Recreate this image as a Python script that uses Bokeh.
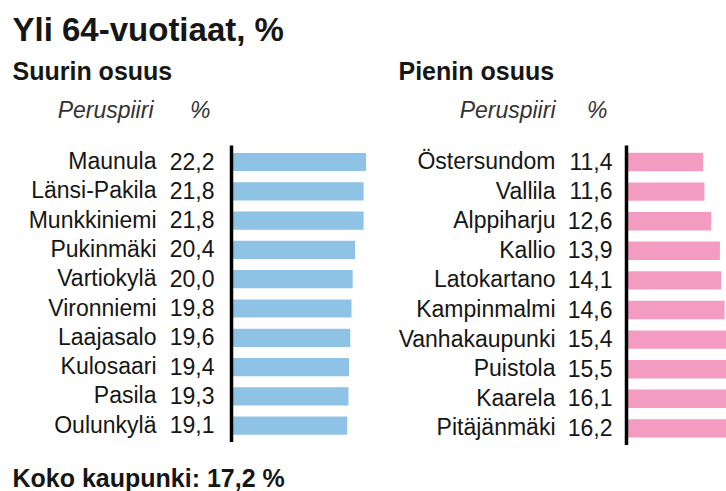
from bokeh.plotting import figure
from bokeh.models import Range1d, ColumnDataSource
from bokeh.core.properties import value
from bokeh.embed import file_html
from bokeh.resources import INLINE

# ---- data ----
title = "Yli 64-vuotiaat, %"
left_header = "Suurin osuus"
right_header = "Pienin osuus"
col_name = "Peruspiiri"
col_pct = "%"
left_names = ["Maunula", "Länsi-Pakila", "Munkkiniemi", "Pukinmäki", "Vartiokylä",
              "Vironniemi", "Laajasalo", "Kulosaari", "Pasila", "Oulunkylä"]
left_values = [22.2, 21.8, 21.8, 20.4, 20.0, 19.8, 19.6, 19.4, 19.3, 19.1]
right_names = ["Östersundom", "Vallila", "Alppiharju", "Kallio", "Latokartano",
               "Kampinmalmi", "Vanhakaupunki", "Puistola", "Kaarela", "Pitäjänmäki"]
right_values = [11.4, 11.6, 12.6, 13.9, 14.1, 14.6, 15.4, 15.5, 16.1, 16.2]
city_label = "Koko kaupunki"
city_total = 17.2

def fmt(v):
    return f"{v:.1f}".replace(".", ",")

W, H = 726, 491
FONT = value("Liberation Sans")
TXT = "#161616"
BLUE = "#8FC3E6"
PINK = "#F39BC1"

p = figure(width=W, height=H, x_range=Range1d(0, W), y_range=Range1d(H, 0),
           output_backend="svg", toolbar_location=None, min_border=0,
           x_axis_location=None, y_axis_location=None)
p.grid.visible = False
p.outline_line_color = None
p.background_fill_color = "white"
p.border_fill_color = "white"

# panel geometry (zero line pixel, px per unit, first row centre, row step)
LZ, LS = 231, 6.06
RZ, RS = 626, 6.72
ROW0, LSTEP, RSTEP = 161.5, 29.3, 29.6
p.extra_x_ranges = {
    "xl": Range1d(-LZ / LS, (W - LZ) / LS),
    "xr": Range1d(-RZ / RS, (W - RZ) / RS),
}
p.extra_y_ranges = {
    "yl": Range1d(start=(H - ROW0) / LSTEP, end=-ROW0 / LSTEP),
    "yr": Range1d(start=(H - ROW0) / RSTEP, end=-ROW0 / RSTEP),
}

def panel(names, vals, color, xr, yr, name_off, val_off):
    src = ColumnDataSource(dict(row=list(range(len(names))), name=names, val=vals,
                                lab=[fmt(v) for v in vals]))
    p.hbar(y="row", left=0, right="val", height=0.62, source=src,
           fill_color=color, line_color=None, x_range_name=xr, y_range_name=yr)
    p.segment(x0=[0], y0=[-0.56], x1=[0], y1=[len(names) - 1 + 0.56],
              line_color="black", line_width=3.5, x_range_name=xr, y_range_name=yr)
    for col, off in (("name", name_off), ("lab", val_off)):
        p.text(x=0, y="row", text=col, source=src, x_offset=off, y_offset=-1,
               text_align="right", text_baseline="middle", text_font=FONT,
               text_font_size="23px", text_color=TXT,
               x_range_name=xr, y_range_name=yr)

panel(left_names, left_values, BLUE, "xl", "yl", -75, -17)
panel(right_names, right_values, PINK, "xr", "yr", -71, -14)

def lab(x, y, t, size, style="normal", align="left", color=TXT):
    # y is the vertical centre of the capital letters, in pixels from the top
    p.text(x=[x], y=[y - 1], text=[t], text_font=FONT, text_font_size=size,
           text_font_style=style, text_align=align, text_baseline="middle",
           text_color=color)

lab(12, 30, title, "33px", "bold")
lab(12, 71.5, left_header, "25px", "bold")
lab(398, 71.5, right_header, "25px", "bold")
lab(153, 110, col_name, "23px", "italic", "right", "#333333")
lab(210, 110, col_pct, "23px", "italic", "right", "#333333")
lab(555, 110, col_name, "23px", "italic", "right", "#333333")
lab(607, 110, col_pct, "23px", "italic", "right", "#333333")
lab(12, 478, f"{city_label}: {fmt(city_total)} %", "25px", "bold")

open("out.html", "w").write(file_html(p, INLINE))
